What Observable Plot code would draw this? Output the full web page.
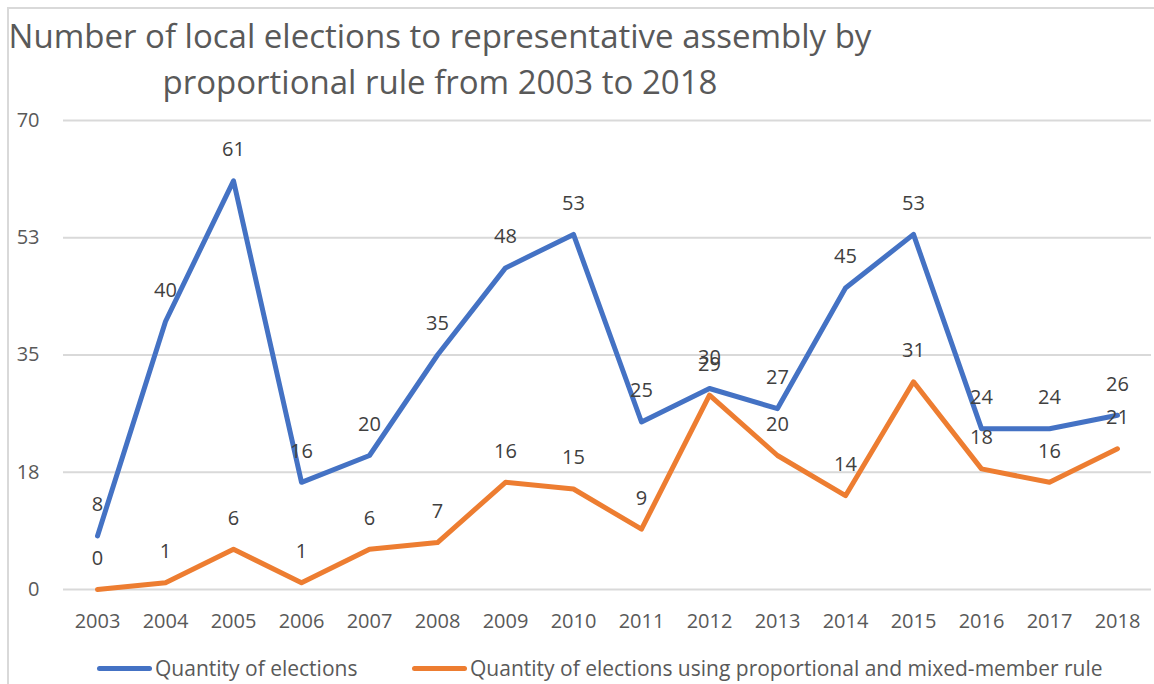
<!DOCTYPE html>
<html><head><meta charset="utf-8">
<script src="https://cdn.jsdelivr.net/npm/d3@7"></script>
<script src="https://cdn.jsdelivr.net/npm/@observablehq/plot@0.6"></script>
<style>
body{margin:0;background:#fff;font-family:"Open Sans",sans-serif;overflow:hidden;width:1154px;height:684px;position:relative}
#frame{position:absolute;left:7px;top:7px;width:1200px;height:800px;border-left:2px solid #d9d9d9;border-top:2px solid #d9d9d9;box-sizing:border-box}
#title{position:absolute;left:0;width:880px;top:13px;text-align:center;color:#595959;font-size:33px;line-height:46px;white-space:nowrap}
#chart{position:absolute;left:0;top:100px}
.leg{position:absolute;top:655px;color:#595959;font-size:21px;line-height:26px;white-space:nowrap;display:flex;align-items:center}
.leg .sw{display:inline-block;width:55px;height:5px;border-radius:3px;margin-right:3px}
</style>
</head><body>
<div id="frame"></div>
<div id="title">Number of local elections to representative assembly by<br>proportional rule from 2003 to 2018</div>
<div id="chart"></div>
<div class="leg" style="left:97px"><span class="sw" style="background:#4472C4"></span>Quantity of elections</div>
<div class="leg" style="left:412px"><span class="sw" style="background:#ED7D31"></span>Quantity of elections using proportional and mixed-member rule</div>
<script>
const years = [2003,2004,2005,2006,2007,2008,2009,2010,2011,2012,2013,2014,2015,2016,2017,2018];
const elections = [8,40,61,16,20,35,48,53,25,30,27,45,53,24,24,26];
const proportional = [0,1,6,1,6,7,16,15,9,29,20,14,31,18,16,21];
const yTicks = [0,17.5,35,52.5,70];
const seriesNames = ["Quantity of elections","Quantity of elections using proportional and mixed-member rule"];
const seriesColors = ["#4472C4","#ED7D31"];

const rows = [];
years.forEach((y,i)=>{
  rows.push({year:y, value:elections[i], series:seriesNames[0]});
  rows.push({year:y, value:proportional[i], series:seriesNames[1]});
});

const chart = Plot.plot({
  width:1154, height:540,
  marginLeft:63, marginRight:3, marginTop:20, marginBottom:51,
  style:{fontFamily:"'Open Sans', sans-serif", fontSize:"20px", color:"#595959", background:"transparent", overflow:"visible"},
  x:{type:"linear", domain:[2002.5,2018.5], label:null},
  y:{domain:[0,70], label:null},
  color:{domain:seriesNames, range:seriesColors},
  marks:[
    Plot.ruleY(yTicks,{stroke:"#d9d9d9", strokeWidth:2, x1:2002.5, x2:2018.5}),
    Plot.axisY({ticks:yTicks, tickFormat:d=>Math.round(d), tickSize:0, tickPadding:24, fill:"#595959", fontSize:20, label:null}),
    Plot.axisX({ticks:years, tickFormat:d=>String(d), tickSize:0, tickPadding:24, fill:"#595959", fontSize:20, label:null}),
    Plot.line(rows,{x:"year", y:"value", stroke:"series", z:"series", strokeWidth:5, strokeLinejoin:"round", strokeLinecap:"round"}),
    Plot.text(rows,{x:"year", y:"value", text:"value", dy:-31, fill:"#404040", fontSize:20})
  ]
});
document.getElementById("chart").appendChild(chart);
</script>
</body></html>
